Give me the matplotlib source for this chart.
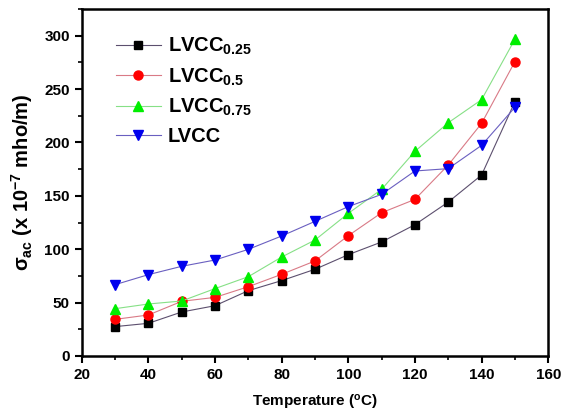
import matplotlib
matplotlib.use('Agg')
import matplotlib.pyplot as plt
from matplotlib.ticker import MultipleLocator

plt.rcParams['font.family'] = ['Liberation Sans', 'DejaVu Sans']
plt.rcParams['font.weight'] = 'bold'
plt.rcParams['mathtext.fontset'] = 'custom'
plt.rcParams['mathtext.rm'] = 'Liberation Sans:bold'
plt.rcParams['mathtext.it'] = 'Liberation Sans:bold'
plt.rcParams['mathtext.bf'] = 'Liberation Sans:bold'

# temperature (C)
temp = [30, 40, 50, 60, 70, 80, 90, 100, 110, 120, 130, 140, 150]

# ac conductivity (x 10^-7 mho/m)
lvcc_025 = [27.5, 30.6, 41.2, 47.1, 61.2, 70.6, 81.2, 94.9, 106.8, 123.0, 144.2, 169.5, 238.2]
lvcc_05 = [34.3, 38.4, 51.2, 54.9, 64.9, 76.5, 89.0, 112.7, 134.2, 146.7, 178.9, 217.9, 275.7]
lvcc_075 = [44.3, 48.7, 51.5, 63.1, 74.3, 92.7, 108.6, 133.6, 156.1, 191.7, 218.5, 240.1, 296.6]
lvcc = [66.8, 76.2, 84.0, 89.9, 99.9, 112.4, 126.1, 139.9, 151.4, 173.3, 175.5, 197.3, 232.9]

labels = ['LVCC$_{0.25}$', 'LVCC$_{0.5}$', 'LVCC$_{0.75}$', 'LVCC']

fig = plt.figure(figsize=(5.64, 4.12), dpi=100)
ax = fig.add_axes([0.145, 0.136, 0.827, 0.842])

ax.plot(temp, lvcc_025, '-s', color='#5c4f6e', mfc='black', mec='black', ms=5.5, lw=0.8, label=labels[0])
ax.plot(temp, lvcc_05, '-o', color='#d97a86', mfc='red', mec='red', ms=6.5, lw=0.8, label=labels[1])
ax.plot(temp, lvcc_075, '-^', color='#86e086', mfc='#00ee00', mec='#00ee00', ms=7.5, lw=0.8, label=labels[2])
ax.plot(temp, lvcc, '-v', color='#6a5fc0', mfc='#0000ee', mec='#0000ee', ms=7.5, lw=0.8, label=labels[3])

ax.set_xlim(20, 160)
ax.set_ylim(0, 325)
ax.xaxis.set_major_locator(MultipleLocator(20))
ax.xaxis.set_minor_locator(MultipleLocator(10))
ax.yaxis.set_major_locator(MultipleLocator(50))
ax.yaxis.set_minor_locator(MultipleLocator(25))
ax.tick_params(which='major', direction='out', length=5, width=1.5, labelsize=11)
ax.tick_params(which='minor', direction='out', length=3, width=1.2)
for s in ax.spines.values():
    s.set_linewidth(1.8)

ax.set_xlabel('Temperature ($^{\\mathrm{o}}$C)', fontsize=11, fontweight='bold', labelpad=8)
ax.set_ylabel('$\\sigma_{ac}$ (x 10$^{-7}$ mho/m)', fontsize=14.5, fontweight='bold')
ax.yaxis.set_label_coords(-0.1, 0.5)

ax.legend(loc='upper left', bbox_to_anchor=(0.035, 0.975), frameon=False, fontsize=14.5,
          handlelength=2.2, labelspacing=0.45, handletextpad=0.35)

fig.savefig('out.png', dpi=100)
